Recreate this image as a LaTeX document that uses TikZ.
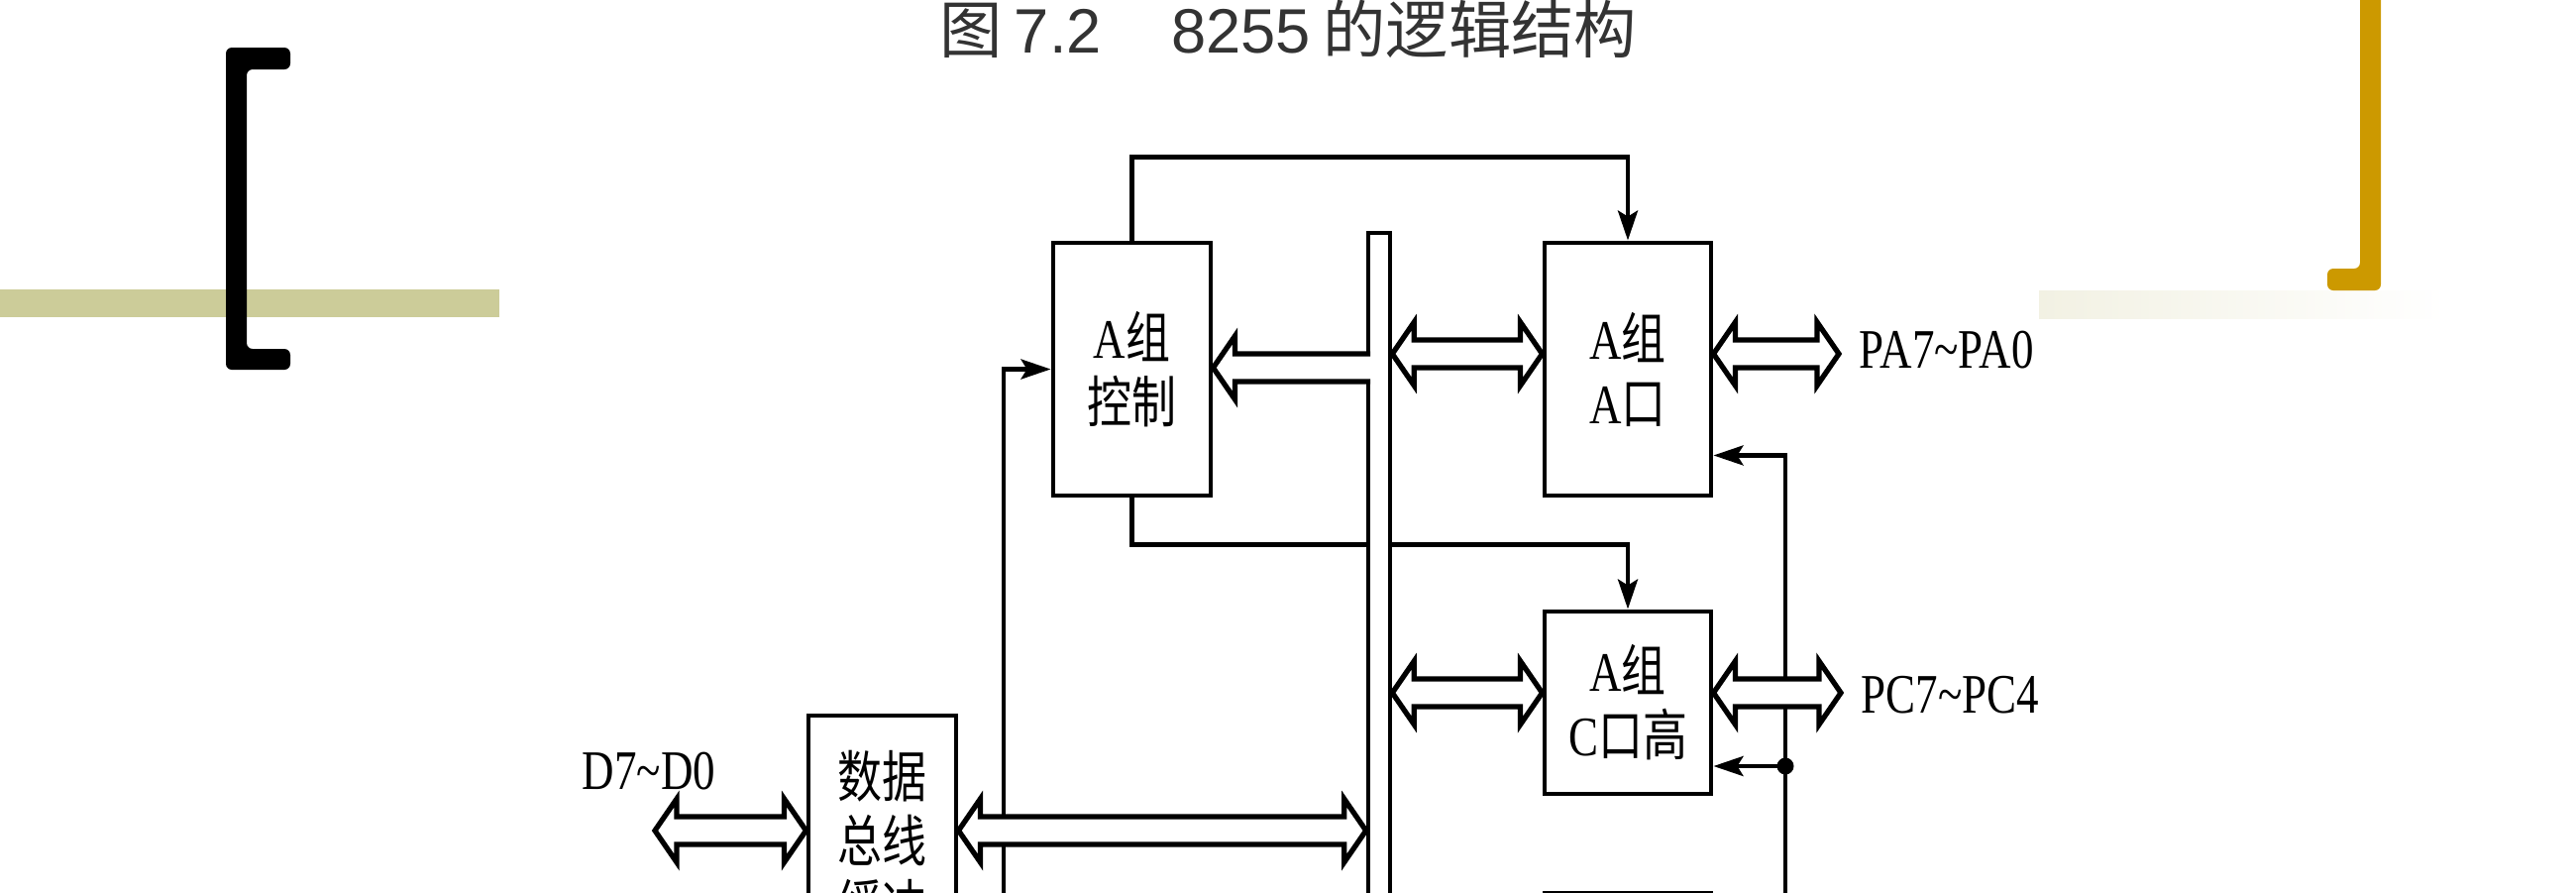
\documentclass[tikz,border=0pt]{standalone}
\usepackage{fontspec}
\setmainfont{Liberation Serif}[FakeStretch=0.8]
\newfontfamily\cjk{Noto Sans CJK SC}[FakeStretch=0.8]
\newfontfamily\titlesans{Liberation Sans}
\newfontfamily\titlecjk{Noto Sans CJK SC}
\usepackage{tikz}
\usetikzlibrary{arrows.meta,positioning,calc}
\definecolor{olivebar}{RGB}{204,204,153}
\definecolor{goldbar}{RGB}{204,153,0}
\definecolor{fadecream}{RGB}{242,241,227}
\definecolor{titlegray}{RGB}{51,51,51}
\newcommand\zh[1]{{\cjk #1}}
\newcommand\boxfont{\fontsize{16pt}{18.5pt}\selectfont}
\newcommand\headlen{0.22cm}
\newcommand\headhalf{0.32cm}
\newcommand\shafthalf{0.14cm}
\newcommand\busarrow[2]{%
  \path[busline] let \p1=(#1), \p2=(#2) in
    (\x1,\y1) -- (\x1+\headlen,\y1+\headhalf) -- (\x1+\headlen,\y1+\shafthalf)
    -- (\x2-\headlen,\y1+\shafthalf) -- (\x2-\headlen,\y1+\headhalf) -- (\x2,\y1)
    -- (\x2-\headlen,\y1-\headhalf) -- (\x2-\headlen,\y1-\shafthalf)
    -- (\x1+\headlen,\y1-\shafthalf) -- (\x1+\headlen,\y1-\headhalf) -- cycle;}
\newcommand\busbranch[2]{%
  \path[busline] let \p1=(#1), \p2=(#2) in
    (\x1,\y2+\shafthalf) -- (\x2+\headlen,\y2+\shafthalf) -- (\x2+\headlen,\y2+\headhalf)
    -- (\x2,\y2) -- (\x2+\headlen,\y2-\headhalf) -- (\x2+\headlen,\y2-\shafthalf)
    -- (\x1,\y2-\shafthalf);}
\tikzset{
  unitbox/.style={draw,line width=1.4pt,align=center,inner sep=0pt,font=\boxfont},
  sigline/.style={line width=1.25pt,-{Stealth[length=3mm,width=2mm,inset=0.6mm]}},
  busline/.style={draw,fill=white,line width=1.5pt,line join=miter},
  buswall/.style={draw,fill=white,line width=1.3pt,inner sep=0pt},
  portlabel/.style={font=\boxfont,inner ysep=0pt,inner xsep=0.2cm}
}

\begin{document}
\begin{tikzpicture}
  \useasboundingbox (0,-9) rectangle (26,0);
  \clip (0,-9) rectangle (26,0);
  \fill[olivebar] (0,-2.92) rectangle (5.04,-3.20);
  \shade[left color=fadecream,right color=white] (20.58,-2.93) rectangle (24.69,-3.21);
  \fill[black,rounded corners=0.06cm] (2.93,-0.48) -- (2.28,-0.48) -- (2.28,-3.73)
    -- (2.93,-3.73) -- (2.93,-3.52) -- (2.49,-3.52) -- (2.49,-0.70) -- (2.93,-0.70) -- cycle;
  \fill[goldbar,rounded corners=0.06cm] (23.82,0.2) -- (24.03,0.2) -- (24.03,-2.93)
    -- (23.49,-2.93) -- (23.49,-2.71) -- (23.82,-2.71) -- cycle;
  \node[anchor=base,text=titlegray,font=\fontsize{18pt}{20pt}\selectfont] (title) at (13.0,-0.53)
    {{\titlecjk 图} {\titlesans 7.2}\hspace{20pt}{\titlesans 8255} {\titlecjk 的逻辑结构}};

  \node[unitbox,minimum width=1.59cm,minimum height=2.55cm] (actrl) at (11.425,-3.725) {A\zh{组}\\\zh{控制}};
  \node[unitbox,minimum width=1.68cm,minimum height=2.55cm] (aport) at (16.43,-3.725) {A\zh{组}\\A\zh{口}};
  \node[unitbox,minimum width=1.68cm,minimum height=1.84cm] (chi) at (16.43,-7.09) {A\zh{组}\\C\zh{口高}};
  \node[unitbox,minimum width=1.68cm,minimum height=1.84cm,below=0.96cm of chi] (nextbox) {};
  \node[unitbox,minimum width=1.49cm,minimum height=2.52cm] (dbuf) at (8.905,-8.48) {\zh{数据}\\\zh{总线}\\\zh{缓冲}};
  \node[portlabel,anchor=west] (pa) at (18.56,-3.53) {PA7\textasciitilde PA0};
  \node[portlabel,anchor=west] (pc) at (18.58,-7.01) {PC7\textasciitilde PC4};
  \node[portlabel] (dlab) at (6.55,-7.78) {D7\textasciitilde D0};

  \coordinate (ya) at (0,-3.57);
  \coordinate (yk) at (0,-3.71);
  \coordinate (yc) at (0,-6.99);
  \coordinate (yd) at (0,-8.38);
  \coordinate (lbot) at (10.13,-9.3);
  \coordinate (rbot) at (18.02,-9.3);
  \coordinate (jc) at (18.02,-7.73);
  \coordinate (dend) at (6.61,-8.38);

  \draw[sigline] (actrl.north) -- ++(0,0.84) -| (aport.north);
  \draw[sigline] (actrl.south) -- ++(0,-0.47) -| (chi.north);
  \draw[sigline] (lbot) |- (actrl.west);
  \draw[sigline] (rbot) |- ($(aport.south east)+(0,0.43)$);
  \draw[sigline] (jc) -- (jc -| chi.east);
  \fill (jc) circle (0.085);

  \node[buswall,minimum width=0.22cm,minimum height=7.9cm] (bus) at (13.92,-6.30) {};

  \busarrow{bus.east |- ya}{aport.west |- ya}
  \busarrow{aport.east |- ya}{pa.west |- ya}
  \busarrow{bus.east |- yc}{chi.west |- yc}
  \busarrow{chi.east |- yc}{pc.west |- yc}
  \busarrow{dbuf.east |- yd}{bus.west |- yd}
  \busarrow{dend}{dbuf.west |- yd}
  \busbranch{$(bus.west |- yk)+(0.045,0)$}{actrl.east |- yk}
\end{tikzpicture}
\end{document}
